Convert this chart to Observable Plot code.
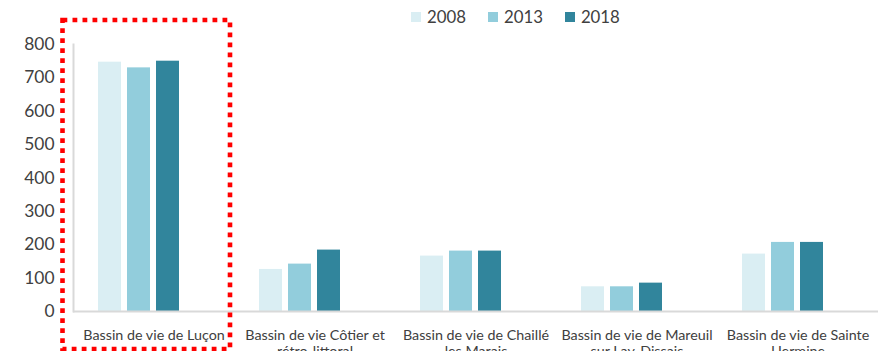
<!DOCTYPE html>
<html>
<head>
<meta charset="utf-8">
<script src="https://cdn.jsdelivr.net/npm/d3@7"></script>
<script src="https://cdn.jsdelivr.net/npm/@observablehq/plot@0.6"></script>
<style>
  body { margin: 0; background: #fff; font-family: Lato, sans-serif; }
  #legend {
    height: 30px; box-sizing: border-box; padding: 3px 0 0 411px;
    display: flex; align-items: center; font-size: 16.8px; color: #404040;
  }
  .item { display: flex; align-items: center; margin-right: 22px; }
  .swatch { width: 10px; height: 10px; margin-right: 6px; }
</style>
</head>
<body>
<div id="chart"><div id="legend"></div></div>
<script>
// Living areas (bassins de vie)
const categories = [
  "Bassin de vie de Luçon",
  "Bassin de vie Côtier et rétro-littoral",
  "Bassin de vie de Chaillé les Marais",
  "Bassin de vie de Mareuil sur Lay-Dissais",
  "Bassin de vie de Sainte Hermine"
];
const years = ["2008", "2013", "2018"];
const values2008 = [747, 126, 166, 74, 172];
const values2013 = [730, 142, 181, 74, 207];
const values2018 = [750, 184, 181, 85, 207];
const yTicks = [0, 100, 200, 300, 400, 500, 600, 700, 800];
const colors = ["#DAEEF3", "#92CDDC", "#31859C"];

const series = [values2008, values2013, values2018];
const data = years.flatMap((year, j) =>
  categories.map((category, i) => ({category, year, value: series[j][i]}))
);

// Greedy word wrap for the category labels
function wrap(text, max = 24) {
  const lines = [];
  let line = "";
  for (const word of text.split(" ")) {
    const next = line ? line + " " + word : word;
    if (next.length > max && line) { lines.push(line); line = word; }
    else line = next;
  }
  if (line) lines.push(line);
  return lines.join("\n");
}

// Legend
const legend = d3.select("#legend");
years.forEach((year, i) => {
  const item = legend.append("div").attr("class", "item");
  item.append("div").attr("class", "swatch").style("background", colors[i]);
  item.append("span").text(year);
});

const chart = Plot.plot({
  width: 889,
  height: 321,
  marginLeft: 72,
  marginRight: 10,
  marginTop: 14,
  marginBottom: 40,
  style: {fontFamily: "Lato, sans-serif", color: "#404040", overflow: "visible", background: "transparent"},
  fx: {domain: categories, padding: 0, label: null},
  x: {domain: years, paddingInner: 0.22, paddingOuter: 1.37, align: 0.316, axis: null},
  y: {domain: [0, 800], label: null},
  color: {domain: years, range: colors},
  marks: [
    Plot.frame({anchor: "left", facetAnchor: "left", stroke: "#d9d9d9", strokeWidth: 2}),
    Plot.barY(data, {fx: "category", x: "year", y: "value", fill: "year"}),
    Plot.ruleY([0], {stroke: "#d9d9d9", strokeWidth: 2}),
    Plot.axisY({ticks: yTicks, tickSize: 0, tickPadding: 19, fontSize: 17.4, label: null}),
    Plot.axisFx({anchor: "bottom", tickSize: 0, tickPadding: 17, fontSize: 14.3, lineHeight: 1.12, tickFormat: (d) => wrap(d), label: null})
  ]
});
document.getElementById("chart").appendChild(chart);

// Dotted red highlight around the first living area
{
  const fxScale = chart.scale("fx");
  const yScale = chart.scale("y");
  const boxLeft = fxScale.apply(categories[0]) - 10.5;
  const boxRight = fxScale.apply(categories[0]) + fxScale.bandwidth - 4;
  const boxTop = yScale.apply(800) - 24;
  const boxBottom = 319;
  d3.select(chart).append("rect")
    .attr("x", boxLeft).attr("y", boxTop)
    .attr("width", boxRight - boxLeft).attr("height", boxBottom - boxTop)
    .attr("fill", "none")
    .attr("stroke", "#ff0000")
    .attr("stroke-width", 4.6)
    .attr("stroke-dasharray", "4.8 5.2");
}
</script>
</body>
</html>
